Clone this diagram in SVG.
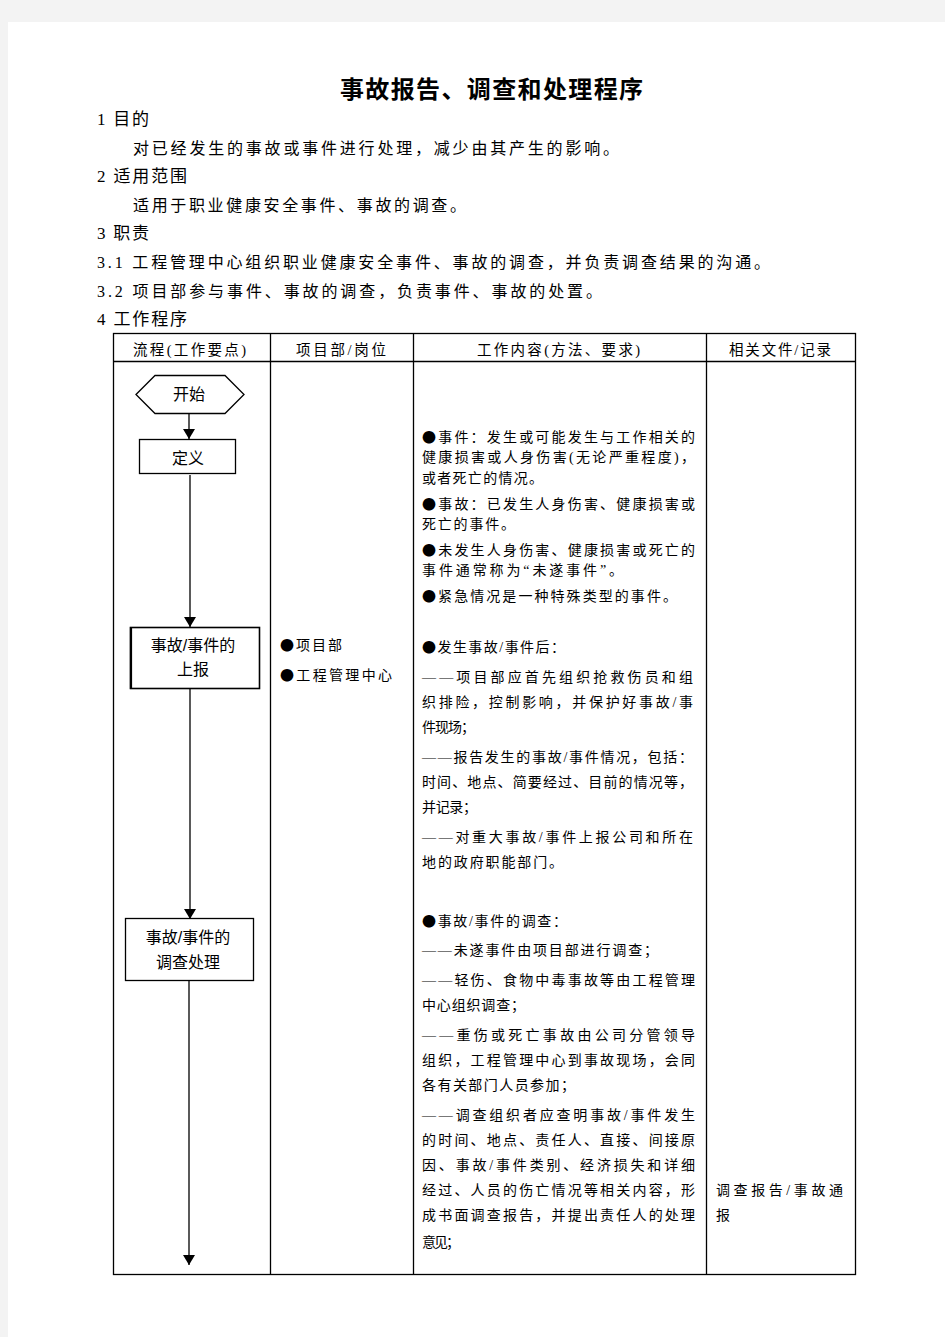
<svg xmlns="http://www.w3.org/2000/svg" width="945" height="1337" viewBox="0 0 945 1337">
<style>
text{font-family:"Liberation Serif","Noto Sans CJK SC",serif;fill:#000}
.t{font-size:24px;font-weight:bold}
.h{font-size:17px}
.b{font-size:16px}
.th{font-size:14.5px}
.c{font-size:14px}
.k{font-family:"Noto Sans CJK SC",sans-serif}
.f{font-family:"Liberation Sans","Noto Sans CJK SC",sans-serif;font-size:16px;text-anchor:middle}
.ln{stroke:#000;stroke-width:1.3;fill:none}
.nd{fill:#fff;stroke:#000;stroke-width:1.3}
</style>
<defs>
<marker id="ah" viewBox="0 0 10 12" refX="10" refY="6" markerWidth="10" markerHeight="12" markerUnits="userSpaceOnUse" orient="auto">
<path d="M0,0 L10,6 L0,12 Z" fill="#000"/>
</marker>
</defs>
<rect x="0" y="0" width="945" height="1337" fill="#f3f3f3"/>
<rect x="8" y="22" width="937" height="1315" fill="#fff"/>

<g id="header">
<text class="t" x="340" y="98" textLength="303" lengthAdjust="spacing">事故报告、调查和处理程序</text>
<text class="h" x="97" y="125" textLength="52" lengthAdjust="spacing">1 目的</text>
<text class="b" x="133" y="154" textLength="486" lengthAdjust="spacing">对已经发生的事故或事件进行处理，减少由其产生的影响。</text>
<text class="h" x="97" y="182" textLength="90" lengthAdjust="spacing">2 适用范围</text>
<text class="b" x="133" y="211" textLength="333" lengthAdjust="spacing">适用于职业健康安全事件、事故的调查。</text>
<text class="h" x="97" y="239" textLength="52" lengthAdjust="spacing">3 职责</text>
<text class="b" x="97" y="268" textLength="673" lengthAdjust="spacing">3.1 工程管理中心组织职业健康安全事件、事故的调查，并负责调查结果的沟通。</text>
<text class="b" x="97" y="297" textLength="505" lengthAdjust="spacing">3.2 项目部参与事件、事故的调查，负责事件、事故的处置。</text>
<text class="h" x="97" y="325" textLength="90" lengthAdjust="spacing">4 工作程序</text>
</g>

<g id="table">
<rect class="ln" x="113.5" y="333.5" width="742" height="941"/>
<line class="ln" x1="113" y1="361.5" x2="856" y2="361.5"/>
<line class="ln" x1="270.5" y1="333" x2="270.5" y2="1275"/>
<line class="ln" x1="413.5" y1="333" x2="413.5" y2="1275"/>
<line class="ln" x1="706.5" y1="333" x2="706.5" y2="1275"/>
<text class="th" x="133" y="355" textLength="113" lengthAdjust="spacing">流程(工作要点)</text>
<text class="th" x="296" y="355" textLength="90" lengthAdjust="spacing">项目部/岗位</text>
<text class="th" x="477" y="355" textLength="163" lengthAdjust="spacing">工作内容(方法、要求)</text>
<text class="th" x="729" y="355" textLength="102" lengthAdjust="spacing">相关文件/记录</text>
</g>

<g id="connectors">
<line class="ln" x1="189" y1="414" x2="189" y2="439" marker-end="url(#ah)"/>
<line class="ln" x1="190" y1="475" x2="190" y2="627" marker-end="url(#ah)"/>
<line class="ln" x1="190" y1="688" x2="190" y2="919" marker-end="url(#ah)"/>
<line class="ln" x1="189" y1="981" x2="189" y2="1265" marker-end="url(#ah)"/>
</g>

<g id="start">
<polygon class="nd" points="136,394.5 155,375.5 225,375.5 244,394.5 225,413.5 155,413.5"/>
<text class="f" x="189" y="400">开始</text>
</g>
<g id="define">
<rect class="nd" x="139.5" y="439.5" width="96" height="34"/>
<text class="f" x="188" y="464">定义</text>
</g>
<g id="report">
<rect class="nd" x="130.5" y="627.5" width="129" height="61" style="stroke-width:1.6"/>
<line x1="131" y1="627" x2="131" y2="689" stroke="#000" stroke-width="2.2"/>
<text class="f" x="193" y="651">事故/事件的</text>
<text class="f" x="193" y="675">上报</text>
</g>
<g id="investigate">
<rect class="nd" x="125.5" y="918.5" width="128" height="62"/>
<text class="f" x="188" y="943">事故/事件的</text>
<text class="f" x="188" y="968">调查处理</text>
</g>

<g id="col2">
<text class="c" x="280" y="650" textLength="62" lengthAdjust="spacing"><tspan class="k">●</tspan>项目部</text>
<text class="c" x="280" y="680" textLength="112" lengthAdjust="spacing"><tspan class="k">●</tspan>工程管理中心</text>
</g>

<g id="col3">
<text class="c" x="422" y="442" textLength="273" lengthAdjust="spacing"><tspan class="k">●</tspan>事件：发生或可能发生与工作相关的</text>
<text class="c" x="422" y="462" textLength="273" lengthAdjust="spacing">健康损害或人身伤害(无论严重程度)，</text>
<text class="c" x="422" y="483" textLength="121" lengthAdjust="spacing">或者死亡的情况。</text>
<text class="c" x="422" y="509" textLength="273" lengthAdjust="spacing"><tspan class="k">●</tspan>事故：已发生人身伤害、健康损害或</text>
<text class="c" x="422" y="529" textLength="93" lengthAdjust="spacing">死亡的事件。</text>
<text class="c" x="422" y="555" textLength="273" lengthAdjust="spacing"><tspan class="k">●</tspan>未发生人身伤害、健康损害或死亡的</text>
<text class="c" x="422" y="575" textLength="201" lengthAdjust="spacing">事件通常称为“未遂事件”。</text>
<text class="c" x="422" y="601" textLength="255" lengthAdjust="spacing"><tspan class="k">●</tspan>紧急情况是一种特殊类型的事件。</text>

<text class="c" x="422" y="652" textLength="143" lengthAdjust="spacing"><tspan class="k">●</tspan>发生事故/事件后：</text>
<text class="c" x="422" y="682" textLength="271" lengthAdjust="spacing">——项目部应首先组织抢救伤员和组</text>
<text class="c" x="422" y="707" textLength="271" lengthAdjust="spacing">织排险，控制影响，并保护好事故/事</text>
<text class="c" x="422" y="732" textLength="53" lengthAdjust="spacing">件现场；</text>
<text class="c" x="422" y="762" textLength="271" lengthAdjust="spacing">——报告发生的事故/事件情况，包括：</text>
<text class="c" x="422" y="787" textLength="271" lengthAdjust="spacing">时间、地点、简要经过、目前的情况等，</text>
<text class="c" x="422" y="812" textLength="55" lengthAdjust="spacing">并记录；</text>
<text class="c" x="422" y="842" textLength="271" lengthAdjust="spacing">——对重大事故/事件上报公司和所在</text>
<text class="c" x="422" y="867" textLength="141" lengthAdjust="spacing">地的政府职能部门。</text>

<text class="c" x="422" y="926" textLength="145" lengthAdjust="spacing"><tspan class="k">●</tspan>事故/事件的调查：</text>
<text class="c" x="422" y="955" textLength="236" lengthAdjust="spacing">——未遂事件由项目部进行调查；</text>
<text class="c" x="422" y="985" textLength="273" lengthAdjust="spacing">——轻伤、食物中毒事故等由工程管理</text>
<text class="c" x="422" y="1010" textLength="103" lengthAdjust="spacing">中心组织调查；</text>
<text class="c" x="422" y="1040" textLength="273" lengthAdjust="spacing">——重伤或死亡事故由公司分管领导</text>
<text class="c" x="422" y="1065" textLength="273" lengthAdjust="spacing">组织，工程管理中心到事故现场，会同</text>
<text class="c" x="422" y="1090" textLength="153" lengthAdjust="spacing">各有关部门人员参加；</text>
<text class="c" x="422" y="1120" textLength="273" lengthAdjust="spacing">——调查组织者应查明事故/事件发生</text>
<text class="c" x="422" y="1145" textLength="273" lengthAdjust="spacing">的时间、地点、责任人、直接、间接原</text>
<text class="c" x="422" y="1170" textLength="273" lengthAdjust="spacing">因、事故/事件类别、经济损失和详细</text>
<text class="c" x="422" y="1195" textLength="273" lengthAdjust="spacing">经过、人员的伤亡情况等相关内容，形</text>
<text class="c" x="422" y="1220" textLength="273" lengthAdjust="spacing">成书面调查报告，并提出责任人的处理</text>
<text class="c" x="422" y="1247" textLength="38" lengthAdjust="spacing">意见；</text>
</g>

<g id="col4">
<text class="c" x="716" y="1195" textLength="127" lengthAdjust="spacing">调查报告/事故通</text>
<text class="c" x="716" y="1220">报</text>
</g>
</svg>
